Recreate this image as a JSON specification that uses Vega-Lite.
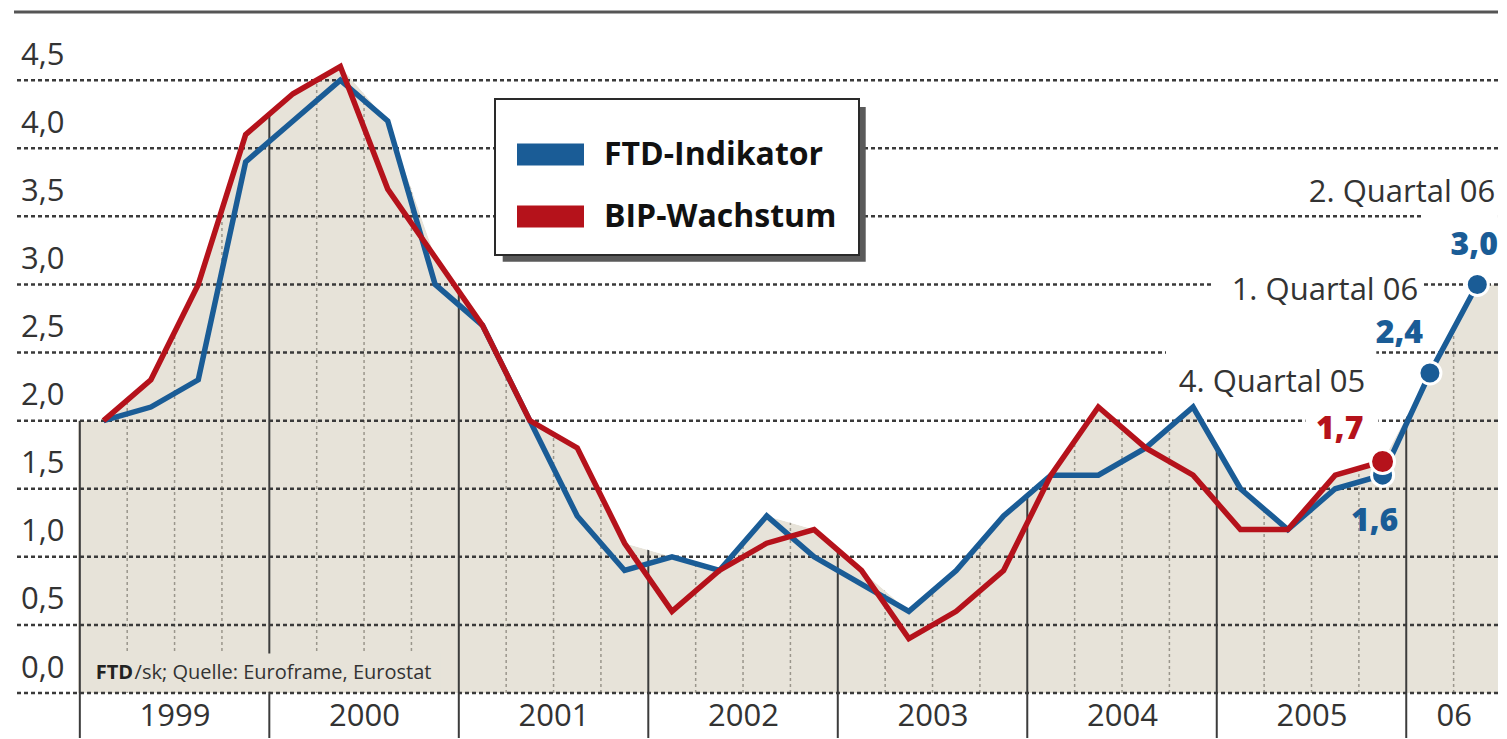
{
  "$schema": "https://vega.github.io/schema/vega-lite/v6.json",
  "width": 1507,
  "height": 739,
  "autosize": {"type": "fit", "contains": "padding"},
  "padding": {"left": 12, "right": 7, "top": 10, "bottom": 0},
  "background": "white",
  "config": {"view": {"stroke": null}, "font": "Open Sans"},
  "data": {"values": [{}]},
  "datasets": {
    "series": [
      {"t": 1999.125, "s": "FTD-Indikator", "v": 2.0},
      {"t": 1999.375, "s": "FTD-Indikator", "v": 2.1},
      {"t": 1999.625, "s": "FTD-Indikator", "v": 2.3},
      {"t": 1999.875, "s": "FTD-Indikator", "v": 3.9},
      {"t": 2000.125, "s": "FTD-Indikator", "v": 4.2},
      {"t": 2000.375, "s": "FTD-Indikator", "v": 4.5},
      {"t": 2000.625, "s": "FTD-Indikator", "v": 4.2},
      {"t": 2000.875, "s": "FTD-Indikator", "v": 3.0},
      {"t": 2001.125, "s": "FTD-Indikator", "v": 2.7},
      {"t": 2001.375, "s": "FTD-Indikator", "v": 2.0},
      {"t": 2001.625, "s": "FTD-Indikator", "v": 1.3},
      {"t": 2001.875, "s": "FTD-Indikator", "v": 0.9},
      {"t": 2002.125, "s": "FTD-Indikator", "v": 1.0},
      {"t": 2002.375, "s": "FTD-Indikator", "v": 0.9},
      {"t": 2002.625, "s": "FTD-Indikator", "v": 1.3},
      {"t": 2002.875, "s": "FTD-Indikator", "v": 1.0},
      {"t": 2003.125, "s": "FTD-Indikator", "v": 0.8},
      {"t": 2003.375, "s": "FTD-Indikator", "v": 0.6},
      {"t": 2003.625, "s": "FTD-Indikator", "v": 0.9},
      {"t": 2003.875, "s": "FTD-Indikator", "v": 1.3},
      {"t": 2004.125, "s": "FTD-Indikator", "v": 1.6},
      {"t": 2004.375, "s": "FTD-Indikator", "v": 1.6},
      {"t": 2004.625, "s": "FTD-Indikator", "v": 1.8},
      {"t": 2004.875, "s": "FTD-Indikator", "v": 2.1},
      {"t": 2005.125, "s": "FTD-Indikator", "v": 1.5},
      {"t": 2005.375, "s": "FTD-Indikator", "v": 1.2},
      {"t": 2005.625, "s": "FTD-Indikator", "v": 1.5},
      {"t": 2005.875, "s": "FTD-Indikator", "v": 1.6},
      {"t": 2006.125, "s": "FTD-Indikator", "v": 2.35},
      {"t": 2006.375, "s": "FTD-Indikator", "v": 3.0},
      {"t": 1999.125, "s": "BIP-Wachstum", "v": 2.0},
      {"t": 1999.375, "s": "BIP-Wachstum", "v": 2.3},
      {"t": 1999.625, "s": "BIP-Wachstum", "v": 3.0},
      {"t": 1999.875, "s": "BIP-Wachstum", "v": 4.1},
      {"t": 2000.125, "s": "BIP-Wachstum", "v": 4.4},
      {"t": 2000.375, "s": "BIP-Wachstum", "v": 4.6},
      {"t": 2000.625, "s": "BIP-Wachstum", "v": 3.7},
      {"t": 2000.875, "s": "BIP-Wachstum", "v": 3.2},
      {"t": 2001.125, "s": "BIP-Wachstum", "v": 2.7},
      {"t": 2001.375, "s": "BIP-Wachstum", "v": 2.0},
      {"t": 2001.625, "s": "BIP-Wachstum", "v": 1.8},
      {"t": 2001.875, "s": "BIP-Wachstum", "v": 1.1},
      {"t": 2002.125, "s": "BIP-Wachstum", "v": 0.6},
      {"t": 2002.375, "s": "BIP-Wachstum", "v": 0.9},
      {"t": 2002.625, "s": "BIP-Wachstum", "v": 1.1},
      {"t": 2002.875, "s": "BIP-Wachstum", "v": 1.2},
      {"t": 2003.125, "s": "BIP-Wachstum", "v": 0.9},
      {"t": 2003.375, "s": "BIP-Wachstum", "v": 0.4},
      {"t": 2003.625, "s": "BIP-Wachstum", "v": 0.6},
      {"t": 2003.875, "s": "BIP-Wachstum", "v": 0.9},
      {"t": 2004.125, "s": "BIP-Wachstum", "v": 1.6},
      {"t": 2004.375, "s": "BIP-Wachstum", "v": 2.1},
      {"t": 2004.625, "s": "BIP-Wachstum", "v": 1.8},
      {"t": 2004.875, "s": "BIP-Wachstum", "v": 1.6},
      {"t": 2005.125, "s": "BIP-Wachstum", "v": 1.2},
      {"t": 2005.375, "s": "BIP-Wachstum", "v": 1.2},
      {"t": 2005.625, "s": "BIP-Wachstum", "v": 1.6},
      {"t": 2005.875, "s": "BIP-Wachstum", "v": 1.7}
    ],
    "shade": [
      {"t": 1998.99, "v": 2.0},
      {"t": 1999.125, "v": 2.0},
      {"t": 1999.375, "v": 2.3},
      {"t": 1999.625, "v": 3.0},
      {"t": 1999.875, "v": 4.1},
      {"t": 2000.125, "v": 4.4},
      {"t": 2000.375, "v": 4.6},
      {"t": 2000.625, "v": 4.2},
      {"t": 2000.875, "v": 3.2},
      {"t": 2001.125, "v": 2.7},
      {"t": 2001.375, "v": 2.0},
      {"t": 2001.625, "v": 1.8},
      {"t": 2001.875, "v": 1.1},
      {"t": 2002.125, "v": 1.0},
      {"t": 2002.375, "v": 0.9},
      {"t": 2002.625, "v": 1.3},
      {"t": 2002.875, "v": 1.2},
      {"t": 2003.125, "v": 0.9},
      {"t": 2003.375, "v": 0.6},
      {"t": 2003.625, "v": 0.9},
      {"t": 2003.875, "v": 1.3},
      {"t": 2004.125, "v": 1.6},
      {"t": 2004.375, "v": 2.1},
      {"t": 2004.625, "v": 1.8},
      {"t": 2004.875, "v": 2.1},
      {"t": 2005.125, "v": 1.5},
      {"t": 2005.375, "v": 1.2},
      {"t": 2005.625, "v": 1.6},
      {"t": 2005.875, "v": 1.7},
      {"t": 2006.125, "v": 2.35},
      {"t": 2006.375, "v": 3.0},
      {"t": 2006.484, "v": 3.0}
    ],
    "bounds": [
      {"t": 1999, "k": "y"}, {"t": 2000, "k": "y"}, {"t": 2001, "k": "y"}, {"t": 2002, "k": "y"},
      {"t": 2003, "k": "y"}, {"t": 2004, "k": "y"}, {"t": 2005, "k": "y"}, {"t": 2006, "k": "y"},
      {"t": 1999.25, "k": "q"}, {"t": 1999.5, "k": "q"}, {"t": 1999.75, "k": "q"},
      {"t": 2000.25, "k": "q"}, {"t": 2000.5, "k": "q"}, {"t": 2000.75, "k": "q"},
      {"t": 2001.25, "k": "q"}, {"t": 2001.5, "k": "q"}, {"t": 2001.75, "k": "q"},
      {"t": 2002.25, "k": "q"}, {"t": 2002.5, "k": "q"}, {"t": 2002.75, "k": "q"},
      {"t": 2003.25, "k": "q"}, {"t": 2003.5, "k": "q"}, {"t": 2003.75, "k": "q"},
      {"t": 2004.25, "k": "q"}, {"t": 2004.5, "k": "q"}, {"t": 2004.75, "k": "q"},
      {"t": 2005.25, "k": "q"}, {"t": 2005.5, "k": "q"}, {"t": 2005.75, "k": "q"},
      {"t": 2006.25, "k": "q"}
    ],
    "grid": [
      {"v": 0}, {"v": 0.5}, {"v": 1.0}, {"v": 1.5}, {"v": 2.0},
      {"v": 2.5}, {"v": 3.0}, {"v": 3.5}, {"v": 4.0}, {"v": 4.5}
    ]
  },
  "layer": [
    {
      "data": {"name": "shade"},
      "mark": {"type": "area", "color": "#e7e3d9", "interpolate": "linear"},
      "encoding": {
        "x": {
          "field": "t", "type": "quantitative",
          "scale": {"domain": [1998.6526, 2006.4842], "nice": false, "zero": false},
          "axis": {
            "values": [1999.5, 2000.5, 2001.5, 2002.5, 2003.5, 2004.5, 2005.5, 2006.25],
            "labelExpr": "datum.value > 2006 ? '06' : format(datum.value - 0.5, 'd')",
            "orient": "bottom", "offset": -45, "ticks": false, "tickSize": 0,
            "domain": false, "grid": false, "title": null,
            "labelPadding": 8, "labelBaseline": "top", "labelFont": "Open Sans",
            "labelFontSize": 31, "labelColor": "#333333", "labelFlush": false, "labelOverlap": false
          }
        },
        "y": {
          "field": "v", "type": "quantitative",
          "scale": {"domain": [-0.33, 5.015], "nice": false, "zero": false},
          "axis": {
            "values": [0, 0.5, 1, 1.5, 2, 2.5, 3, 3.5, 4, 4.5],
            "labelExpr": "replace(format(datum.value, '.1f'), '.', ',')",
            "orient": "left", "offset": -50, "ticks": false, "tickSize": 0,
            "domain": false, "grid": false, "title": null,
            "labelPadding": 0, "labelAlign": "right", "labelBaseline": "alphabetic",
            "labelOffset": -16, "labelFont": "Open Sans", "labelFontSize": 31,
            "labelColor": "#333333", "labelFlush": false, "labelOverlap": false
          }
        },
        "y2": {"datum": 0}
      }
    },
    {
      "data": {"name": "bounds"},
      "transform": [{"filter": "datum.k == 'y'"}],
      "mark": {"type": "rule", "color": "#3c3c3c", "strokeWidth": 2},
      "encoding": {
        "x": {"field": "t", "type": "quantitative"},
        "y": {"datum": -0.33},
        "y2": {"datum": 5.0}
      }
    },
    {
      "data": {"name": "bounds"},
      "transform": [{"filter": "datum.k == 'q'"}],
      "mark": {"type": "rule", "color": "#9a968c", "strokeWidth": 1.5, "strokeDash": [3, 3]},
      "encoding": {
        "x": {"field": "t", "type": "quantitative"},
        "y": {"datum": 0},
        "y2": {"datum": 5.0}
      }
    },
    {
      "data": {"name": "shade"},
      "mark": {"type": "area", "color": "white", "interpolate": "linear"},
      "encoding": {
        "x": {"field": "t", "type": "quantitative"},
        "y": {"field": "v", "type": "quantitative"},
        "y2": {"datum": 5.015}
      }
    },
    {
      "mark": {"type": "rect", "color": "#e7e3d9"},
      "encoding": {
        "x": {"datum": 1999.015}, "x2": {"datum": 2000.905},
        "y": {"datum": 0.01}, "y2": {"datum": 0.29}
      }
    },
    {
      "data": {"name": "grid"},
      "mark": {"type": "rule", "color": "#3a3a3a", "strokeWidth": 2.5, "strokeDash": [4, 3]},
      "encoding": {"y": {"field": "v", "type": "quantitative"}}
    },
    {
      "mark": {"type": "rule", "color": "#555555", "strokeWidth": 3},
      "encoding": {"y": {"datum": 5.0}}
    },
    {
      "mark": {"type": "rect", "color": "white"},
      "encoding": {
        "x": {"datum": 2004.974}, "x2": {"datum": 2006.079},
        "y": {"datum": 2.86}, "y2": {"datum": 3.094}
      }
    },
    {
      "mark": {"type": "rect", "color": "white"},
      "encoding": {
        "x": {"datum": 2004.732}, "x2": {"datum": 2005.842},
        "y": {"datum": 2.141}, "y2": {"datum": 2.573}
      }
    },
    {
      "mark": {"type": "rect", "color": "white"},
      "encoding": {
        "x": {"datum": 2005.468}, "x2": {"datum": 2005.853},
        "y": {"datum": 1.862}, "y2": {"datum": 2.082}
      }
    },
    {
      "mark": {"type": "rect", "color": "white"},
      "encoding": {
        "x": {"datum": 2006.079}, "x2": {"datum": 2006.484},
        "y": {"datum": 3.167}, "y2": {"datum": 3.548}
      }
    },
    {
      "mark": {"type": "rect", "color": "#5a5a5a"},
      "encoding": {
        "x": {"datum": 2001.2316}, "x2": {"datum": 2003.1474},
        "y": {"datum": 3.1672}, "y2": {"datum": 4.3035}
      }
    },
    {
      "data": {"name": "series"},
      "mark": {"type": "line", "strokeWidth": 5.5, "strokeJoin": "miter"},
      "encoding": {
        "x": {"field": "t", "type": "quantitative"},
        "y": {"field": "v", "type": "quantitative"},
        "color": {
          "field": "s", "type": "nominal",
          "scale": {"domain": ["FTD-Indikator", "BIP-Wachstum"], "range": ["#1a5c96", "#b5121b"]},
          "legend": {
            "orient": "none", "legendX": 481, "legendY": 89, "title": null,
            "fillColor": "white", "strokeColor": "#2a2a2a", "padding": 22,
            "symbolType": "M-1,-0.33L1,-0.33L1,0.33L-1,0.33Z", "symbolSize": 4489, "symbolStrokeWidth": 0,
            "symbolOffset": 0, "labelOffset": 20, "rowPadding": 12, "labelLimit": 600,
            "labelFont": "Open Sans", "labelFontSize": 32, "labelFontWeight": "bold",
            "labelColor": "#111111",
            "encode": {
              "symbols": {"update": {
                "fill": {"scale": "color", "field": "value"},
                "fillOpacity": {"value": 1},
                "opacity": {"value": 1},
                "strokeWidth": {"value": 0}
              }},
              "legend": {"update": {"strokeWidth": {"value": 2}}}
            }
          }
        },
        "order": {"field": "t", "type": "quantitative"}
      }
    },
    {
      "data": {"name": "series"},
      "transform": [{"filter": "datum.s == 'FTD-Indikator' && datum.t > 2005.8"}],
      "mark": {"type": "point", "filled": true, "size": 484, "color": "#1a5c96", "stroke": "white", "strokeWidth": 3, "opacity": 1, "fillOpacity": 1, "strokeOpacity": 1},
      "encoding": {
        "x": {"field": "t", "type": "quantitative"},
        "y": {"field": "v", "type": "quantitative"}
      }
    },
    {
      "data": {"name": "series"},
      "transform": [{"filter": "datum.s == 'BIP-Wachstum' && datum.t > 2005.8"}],
      "mark": {"type": "point", "filled": true, "size": 576, "color": "#b5121b", "stroke": "white", "strokeWidth": 3, "opacity": 1, "fillOpacity": 1, "strokeOpacity": 1},
      "encoding": {
        "x": {"field": "t", "type": "quantitative"},
        "y": {"field": "v", "type": "quantitative"}
      }
    },
    {
      "mark": {"type": "text", "text": "2. Quartal 06", "align": "right", "baseline": "alphabetic", "font": "Open Sans", "fontSize": 31, "color": "#333333"},
      "encoding": {"x": {"datum": 2006.47}, "y": {"datum": 3.607}}
    },
    {
      "mark": {"type": "text", "text": "1. Quartal 06", "align": "right", "baseline": "alphabetic", "font": "Open Sans", "fontSize": 31, "color": "#333333"},
      "encoding": {"x": {"datum": 2006.063}, "y": {"datum": 2.889}}
    },
    {
      "mark": {"type": "text", "text": "4. Quartal 05", "align": "right", "baseline": "alphabetic", "font": "Open Sans", "fontSize": 31, "color": "#333333"},
      "encoding": {"x": {"datum": 2005.784}, "y": {"datum": 2.214}}
    },
    {
      "mark": {"type": "text", "text": "3,0", "align": "right", "baseline": "alphabetic", "font": "Open Sans", "fontSize": 32, "fontWeight": 800, "color": "#1a5c96"},
      "encoding": {"x": {"datum": 2006.484}, "y": {"datum": 3.218}}
    },
    {
      "mark": {"type": "text", "text": "2,4", "align": "right", "baseline": "alphabetic", "font": "Open Sans", "fontSize": 32, "fontWeight": 800, "color": "#1a5c96"},
      "encoding": {"x": {"datum": 2006.089}, "y": {"datum": 2.573}}
    },
    {
      "mark": {"type": "text", "text": "1,7", "align": "right", "baseline": "alphabetic", "font": "Open Sans", "fontSize": 32, "fontWeight": 800, "color": "#b5121b"},
      "encoding": {"x": {"datum": 2005.774}, "y": {"datum": 1.862}}
    },
    {
      "mark": {"type": "text", "text": "1,6", "align": "right", "baseline": "alphabetic", "font": "Open Sans", "fontSize": 32, "fontWeight": 800, "color": "#1a5c96"},
      "encoding": {"x": {"datum": 2005.958}, "y": {"datum": 1.188}}
    },
    {
      "mark": {"type": "text", "text": "FTD", "align": "left", "baseline": "alphabetic", "font": "Open Sans", "fontSize": 20, "fontWeight": "bold", "color": "#222222"},
      "encoding": {"x": {"datum": 1999.084}, "y": {"datum": 0.103}}
    },
    {
      "mark": {"type": "text", "text": "/sk; Quelle: Euroframe, Eurostat", "align": "left", "baseline": "alphabetic", "font": "Open Sans", "fontSize": 20, "color": "#333333"},
      "encoding": {"x": {"datum": 1999.289}, "y": {"datum": 0.103}}
    }
  ]
}
